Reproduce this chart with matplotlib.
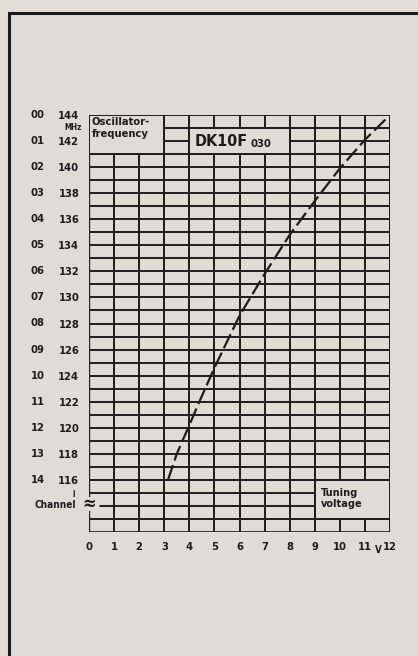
import matplotlib
matplotlib.use("Agg")
import matplotlib.pyplot as plt
from matplotlib.patches import Rectangle

# tuning curve of the oscillator
tuning_v = [3.15, 3.5, 4.0, 4.4, 5.0, 6.0, 7.0, 8.0, 9.0, 10.0, 11.0, 12.0]
osc_mhz = [116.0, 118.0, 120.2, 122.0, 124.6, 128.6, 131.8, 134.8, 137.4, 139.9, 142.1, 144.0]

# axis labelling
freq_ticks = [144, 142, 140, 138, 136, 134, 132, 130, 128, 126, 124, 122, 120, 118, 116]
channels = ["00", "01", "02", "03", "04", "05", "06", "07", "08", "09",
            "10", "11", "12", "13", "14"]
volt_ticks = list(range(0, 13))

paper = "#dddcd6"
ink = "#1c1c1c"
W, H = 418, 656

fig = plt.figure(figsize=(W / 100, H / 100), dpi=100)
fig.patch.set_facecolor("#e3ddd8")

# frame around the sheet, on a background axes in pixel units
bg = fig.add_axes([0, 0, 1, 1], zorder=-1)
bg.set_xlim(0, W)
bg.set_ylim(H, 0)
bg.axis("off")
bg.add_patch(Rectangle((9, 13), W + 20, H + 20, facecolor=paper,
                       edgecolor=ink, linewidth=2.2))

x0, x1, y0, y1 = 89, 390, 115, 532
ax = fig.add_axes([x0 / W, 1 - y1 / H, (x1 - x0) / W, (y1 - y0) / H])
ax.set_facecolor(paper)
ax.set_xlim(0, 12)
ax.set_ylim(112, 144)
for s in ax.spines.values():
    s.set_visible(False)

font = dict(family="DejaVu Sans", stretch="condensed", weight="bold", color=ink)

# grid: one line per volt and per MHz
ax.vlines(range(1, 13), 112, 144, color=ink, lw=1.4, zorder=1)
ax.hlines(range(113, 145), 0, 12, color=ink, lw=1.4, zorder=1)
ax.hlines(112, 0, 12, color=ink, lw=1.9, zorder=1)
ax.vlines(12, 112, 144, color=ink, lw=1.9, zorder=1)
# left edge with the axis break
ax.vlines(0, 114.7, 144, color=ink, lw=1.7, zorder=1)
ax.vlines(0, 112, 113.6, color=ink, lw=1.7, zorder=1)
ax.hlines(114, 0, 0.4, color=paper, lw=2.5, zorder=2)
ax.text(0, 114.15, "≈", ha="center", va="center", fontsize=13, zorder=3, **font)

# label boxes
boxes = [(0, 141, 3, 3), (4, 141, 4, 2), (9, 113, 3, 3)]
for bx, by, bw, bh in boxes:
    ax.add_patch(Rectangle((bx, by), bw, bh, facecolor=paper, edgecolor=ink,
                           lw=1.4, zorder=2))
ax.text(0.1, 143.0, "Oscillator-\nfrequency", ha="left", va="center",
        fontsize=8, linespacing=1.15, zorder=3, **font)
ax.text(4.2, 141.95, "DK10F", ha="left", va="center", fontsize=11.5, zorder=3, **font)
ax.text(6.45, 141.8, "030", ha="left", va="center", fontsize=8, zorder=3, **font)
ax.text(9.25, 114.55, "Tuning\nvoltage", ha="left", va="center",
        fontsize=7.8, linespacing=1.15, zorder=3, **font)

# oscillator frequency vs tuning voltage
ax.plot(tuning_v, osc_mhz, color=ink, lw=1.6, dashes=(7, 2.2), zorder=4)

# ticks
ax.set_xticks(volt_ticks)
ax.set_xticklabels([str(v) for v in volt_ticks])
ax.set_yticks(freq_ticks)
ax.set_yticklabels([str(f) for f in freq_ticks])
for lab in ax.get_xticklabels() + ax.get_yticklabels():
    lab.set(fontsize=8, **font)
ax.tick_params(length=0, pad=7)
ax.text(11.55, 110.65, "V", ha="center", va="center", fontsize=7, **font)

for ch, f in zip(channels, freq_ticks):
    ax.text(-2.05, f, ch, ha="center", va="center", fontsize=8, **font)
ax.text(-0.3, 143.05, "MHz", ha="right", va="center", fontsize=5.8, **font)
ax.text(-0.5, 114.1, "Channel", ha="right", va="center", fontsize=7.2, **font)
ax.text(-0.62, 114.9, "I", ha="center", va="center", fontsize=5.5, **font)

fig.savefig("out.png", dpi=100, facecolor=fig.get_facecolor())
